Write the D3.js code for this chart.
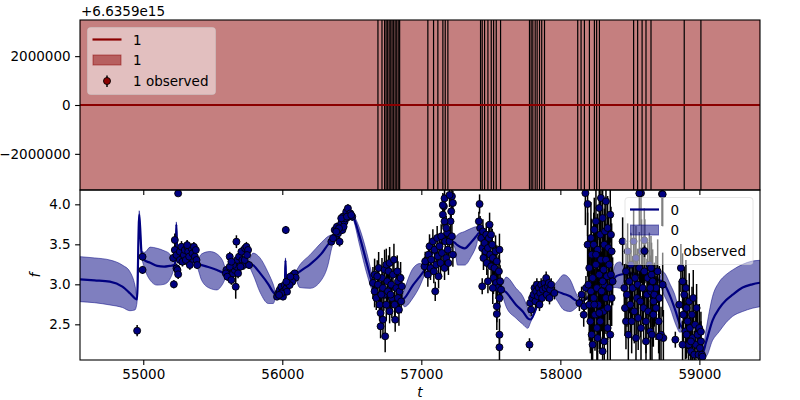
<!DOCTYPE html>
<html><head><meta charset="utf-8">
<script src="https://cdn.jsdelivr.net/npm/d3@7"></script>
<style>body{margin:0;background:#fff;} svg{display:block;} text{font-family:"DejaVu Sans",sans-serif;}</style>
</head><body><svg id="c" width="800" height="400"></svg>
<script>
// ---------- data ----------
const xTicks = [55000, 56000, 57000, 58000, 59000];
const xTickLabels = ["55000", "56000", "57000", "58000", "59000"];
const topTicks = [-2000000, 0, 2000000];
const topTickLabels = ["\u22122000000", "0", "2000000"];
const topOffsetLabel = "+6.6359e15";
const botTicks = [2.5, 3.0, 3.5, 4.0];
const botTickLabels = ["2.5", "3.0", "3.5", "4.0"];
const legendTop = ["1", "1", "1 observed"];
const legendBot = ["0", "0", "0 observed"];

// series 1 (top panel, offset units)
const topModelT = [54545, 59436];
const topModelMean = [0, 0];
const topModelLo = [-5000000, -5000000];
const topModelHi = [5000000, 5000000];
const obs1T = [56688, 56717, 56736, 56747, 56758, 56769, 56780, 56790, 56801, 56812, 56823, 56834, 56844,
  57047, 57088, 57119, 57155, 57172, 57191,
  57426, 57438, 57455, 57479, 57503, 57520, 57539, 57570,
  57778, 57790, 57802, 57819, 57833, 57850, 57866, 57886,
  58125, 58149, 58173, 58209, 58245, 58261, 58281,
  58527, 58556, 58588, 58616, 58652, 58891, 59011];

// series 0 model (bottom panel)
const modelT = [54545,54650,54760,54850,54904,54940,54955,54971,54988,55010,55050,55100,55150,55190,55222,55232,55238,55244,55300,55383,55420,55479,55530,55570,55600,55650,55700,55754,55790,55840,55900,55935,55955,56000,56018,56023,56028,56060,56090,56125,56200,56280,56330,56355,56380,56430,56473,56509,56556,56610,56652,56690,56750,56856,56880,56940,56990,57024,57100,57200,57240,57260,57311,57360,57395,57415,57450,57500,57574,57610,57682,57730,57766,57785,57850,57935,57975,58025,58070,58110,58140,58250,58360,58400,58430,58460,58480,58600,58712,58735,58790,58832,58860,58880,58960,59023,59047,59095,59143,59191,59239,59311,59380,59436];
const modelMean = [3.063,3.05,3.033,2.97,2.888,2.825,2.81,3.87,3.39,3.30,3.27,3.23,3.22,3.23,3.24,3.30,3.75,3.40,3.34,3.263,3.24,3.21,3.18,3.15,3.14,3.18,3.24,3.263,3.24,3.14,3.00,2.90,2.87,2.92,2.95,3.30,2.98,3.05,3.11,3.16,3.25,3.38,3.50,3.55,3.60,3.75,3.93,3.85,3.60,3.25,2.99,2.87,2.85,2.80,2.83,2.99,3.10,3.18,3.45,3.55,3.52,3.49,3.45,3.53,3.60,3.64,3.55,3.30,2.95,2.90,2.742,2.66,2.575,2.56,2.80,2.92,2.91,2.88,2.85,2.80,2.78,2.90,3.00,3.10,3.12,3.13,3.14,3.10,3.05,3.033,2.85,2.65,2.50,2.45,2.30,2.14,2.27,2.55,2.70,2.80,2.87,2.96,3.00,3.02];
const modelLo = [2.783,2.77,2.742,2.71,2.67,2.68,2.77,3.82,3.36,3.20,3.05,2.99,3.00,3.06,3.20,3.27,3.72,3.37,3.31,3.23,3.05,2.95,2.93,3.00,3.10,3.15,3.21,3.23,3.12,2.90,2.76,2.76,2.84,2.89,2.92,3.27,2.95,3.02,3.08,2.96,2.95,3.05,3.25,3.45,3.57,3.72,3.90,3.82,3.49,3.12,2.90,2.84,2.82,2.76,2.72,2.83,2.98,3.12,3.42,3.52,3.46,3.24,3.24,3.35,3.48,3.60,3.52,3.27,2.92,2.72,2.575,2.50,2.45,2.52,2.77,2.89,2.80,2.68,2.66,2.70,2.75,2.87,2.96,2.96,2.95,3.05,3.11,3.07,3.02,2.91,2.70,2.49,2.40,2.42,2.27,2.11,2.10,2.30,2.41,2.52,2.60,2.66,2.70,2.72];
const modelHi = [3.346,3.33,3.304,3.24,3.158,2.99,2.85,3.92,3.42,3.40,3.465,3.45,3.42,3.38,3.28,3.33,3.78,3.43,3.37,3.30,3.38,3.41,3.38,3.30,3.18,3.21,3.27,3.29,3.39,3.33,3.14,3.00,2.90,2.95,2.98,3.33,3.01,3.08,3.14,3.24,3.37,3.52,3.60,3.62,3.63,3.78,3.96,3.88,3.70,3.38,3.08,2.90,2.88,2.84,2.95,3.20,3.26,3.24,3.48,3.58,3.58,3.62,3.66,3.70,3.72,3.68,3.58,3.33,2.98,3.09,2.95,2.85,2.70,2.60,2.83,2.95,3.03,3.12,3.06,2.90,2.81,2.93,3.04,3.26,3.28,3.20,3.17,3.13,3.08,3.16,3.00,2.82,2.60,2.48,2.33,2.17,2.42,2.85,3.03,3.12,3.18,3.25,3.29,3.30];

// series 0 observations [t, f, error]
const obs0 = [
[54956,2.42,0.07],[54995,3.345,0.05],[54995,3.18,0.05],
[55251,4.137,0.03],[55227,3.554,0.08],[55215,3.33,0.05],[55220,3.0,0.05],[55227,3.429,0.06],[55239,3.366,0.06],[55239,3.20,0.06],[55246,3.179,0.06],[55251,3.125,0.06],[55263,3.408,0.06],[55263,3.304,0.06],[55275,3.47,0.07],[55282,3.283,0.06],[55292,3.366,0.06],[55299,3.429,0.06],[55306,3.304,0.06],[55316,3.47,0.08],[55323,3.408,0.06],[55330,3.346,0.06],[55335,3.241,0.06],[55347,3.45,0.06],[55354,3.387,0.06],[55364,3.47,0.06],[55371,3.346,0.06],[55383,3.304,0.05],[55388,3.241,0.05],[55378,3.429,0.06],[55316,3.49,0.06],
[55670,3.533,0.08],[55598,3.179,0.05],[55594,3.137,0.05],[55605,3.096,0.05],[55634,3.054,0.06],[55646,3.137,0.06],[55658,3.179,0.06],[55665,2.97,0.15],[55670,3.22,0.06],[55675,3.304,0.06],[55689,3.346,0.06],[55706,3.408,0.06],[55713,3.304,0.06],[55723,3.241,0.06],[55732,3.45,0.06],[55742,3.47,0.06],[55754,3.429,0.06],[55761,3.241,0.05],[55699,3.22,0.06],[55646,3.241,0.06],[55622,3.22,0.06],[55682,3.137,0.06],[55730,3.304,0.06],[55747,3.366,0.06],[55622,3.346,0.06],[55634,3.283,0.06],
[56025,3.679,0.05],[55962,2.846,0.04],[55970,2.887,0.04],[55981,2.929,0.04],[55993,2.97,0.04],[56005,2.908,0.04],[56005,2.846,0.04],[56017,2.991,0.04],[56029,2.95,0.04],[56041,3.012,0.04],[56053,3.033,0.04],[56065,3.075,0.04],[56077,3.116,0.04],[56089,3.137,0.04],[56096,3.083,0.04],[56072,3.033,0.04],[56053,2.991,0.04],[56034,2.908,0.04],[55993,2.887,0.04],[55977,2.867,0.04],[56029,3.033,0.04],[56058,3.096,0.04],
[56353,3.533,0.04],[56377,3.679,0.05],[56384,3.596,0.05],[56393,3.72,0.05],[56401,3.637,0.05],[56412,3.533,0.06],[56424,3.762,0.05],[56432,3.679,0.05],[56436,3.846,0.05],[56448,3.783,0.05],[56460,3.908,0.05],[56472,3.95,0.05],[56479,3.846,0.05],[56489,3.887,0.05],[56503,3.846,0.05],[56455,3.825,0.05],[56441,3.72,0.05],[56408,3.70,0.05],[56388,3.658,0.05],[56424,3.825,0.05],[56465,3.846,0.05],[56496,3.866,0.05],[56365,3.575,0.05],
[56664,3.121,0.2],[56652,3.017,0.2],[56664,2.912,0.2],[56676,2.829,0.15],[56688,2.996,0.2],[56693,3.204,0.2],[56700,2.746,0.2],[56707,2.642,0.2],[56707,2.475,0.15],[56717,3.079,0.25],[56724,2.954,0.2],[56731,2.871,0.2],[56736,3.183,0.25],[56740,2.35,0.2],[56748,3.246,0.2],[56748,2.746,0.2],[56755,3.037,0.25],[56760,2.912,0.2],[56764,3.162,0.2],[56772,2.662,0.15],[56772,3.267,0.2],[56784,2.996,0.2],[56788,2.829,0.25],[56796,3.121,0.2],[56803,3.308,0.2],[56808,2.746,0.2],[56812,2.558,0.15],[56820,2.954,0.2],[56827,3.162,0.2],[56832,2.829,0.2],[56832,3.037,0.25],[56839,2.683,0.2],[56844,2.912,0.2],[56851,3.079,0.2],[56855,2.787,0.15],[56860,2.975,0.15],[56724,2.558,0.2],[56683,3.10,0.2],[56712,2.871,0.2],[56779,2.871,0.2],
[57023,3.225,0.12],[57028,3.287,0.12],[57047,3.121,0.15],[57052,3.371,0.15],[57059,3.475,0.15],[57066,3.204,0.15],[57071,3.308,0.15],[57083,3.537,0.15],[57090,3.162,0.15],[57095,3.433,0.15],[57100,2.912,0.12],[57107,3.246,0.15],[57114,3.579,0.15],[57119,3.35,0.15],[57124,3.10,0.15],[57131,3.475,0.15],[57138,3.267,0.15],[57143,3.60,0.15],[57148,3.392,0.15],[57155,3.871,0.15],[57162,3.975,0.15],[57167,3.204,0.15],[57172,3.537,0.15],[57179,3.329,0.15],[57186,3.642,0.15],[57191,3.433,0.15],[57195,3.267,0.15],[57203,3.537,0.15],[57210,3.787,0.15],[57215,3.912,0.15],[57220,4.10,0.15],[57220,3.60,0.15],[57227,3.371,0.15],[57227,4.017,0.15],[57167,3.787,0.15],[57179,3.704,0.15],[57155,3.99,0.15],[57167,4.075,0.15],[57203,4.117,0.15],
[57419,4.004,0.12],[57414,3.787,0.12],[57423,3.704,0.15],[57431,3.579,0.15],[57438,3.454,0.15],[57443,3.662,0.15],[57447,3.329,0.15],[57455,3.517,0.15],[57462,3.412,0.15],[57467,3.621,0.15],[57471,3.267,0.15],[57479,3.454,0.15],[57486,3.579,0.15],[57491,3.746,0.15],[57495,3.371,0.15],[57502,3.225,0.15],[57502,3.621,0.15],[57510,3.496,0.2],[57514,3.329,0.2],[57519,3.079,0.2],[57526,3.204,0.2],[57534,3.412,0.2],[57538,3.017,0.2],[57543,3.287,0.2],[57550,2.954,0.2],[57558,3.162,0.2],[57562,3.433,0.2],[57562,2.829,0.2],[57567,3.037,0.2],[57574,2.933,0.15],[57543,2.725,0.2],[57543,2.629,0.2],[57562,2.37,0.2],[57562,2.213,0.2],[57438,2.975,0.1],[57479,3.037,0.15],[57514,2.954,0.2],
[57778,2.246,0.08],[57783,2.767,0.08],[57790,2.683,0.08],[57797,2.829,0.08],[57807,2.871,0.08],[57814,2.954,0.08],[57821,2.787,0.08],[57826,2.912,0.08],[57831,2.996,0.08],[57838,2.85,0.08],[57845,2.954,0.08],[57850,2.746,0.08],[57855,2.891,0.08],[57862,2.996,0.08],[57869,2.829,0.08],[57874,2.933,0.08],[57886,3.017,0.08],[57893,2.954,0.08],[57898,3.079,0.08],[57902,2.871,0.08],[57910,2.975,0.08],[57917,3.017,0.08],[57922,2.829,0.08],[57926,2.933,0.08],[57934,2.996,0.08],[57957,2.891,0.08],
[58137,2.766,0.1],[58153,2.871,0.1],[58172,2.725,0.15],[58184,2.954,0.15],[58168,2.62,0.15],
[58196,4.004,0.4],[58196,3.496,0.4],[58201,2.996,0.45],[58208,2.746,0.45],[58208,3.204,0.4],[58216,2.537,0.4],[58220,2.912,0.5],[58225,3.371,0.45],[58225,2.371,0.4],[58232,3.079,0.5],[58240,2.829,0.45],[58240,3.496,0.4],[58244,3.683,0.4],[58249,2.621,0.45],[58256,3.246,0.5],[58256,3.787,0.4],[58263,2.954,0.5],[58263,2.454,0.4],[58268,3.433,0.45],[58273,2.746,0.45],[58280,3.121,0.5],[58280,3.954,0.4],[58287,3.621,0.45],[58287,2.537,0.4],[58292,3.308,0.5],[58297,2.912,0.5],[58304,2.163,0.35],[58304,3.829,0.4],[58311,3.183,0.45],[58311,2.662,0.4],[58316,3.496,0.45],[58316,2.996,0.45],[58321,3.662,0.4],[58328,3.308,0.45],[58328,2.829,0.45],[58335,3.10,0.45],[58340,3.704,0.4],[58340,2.454,0.4],[58345,3.454,0.4],[58352,2.954,0.4],[58352,3.246,0.4],[58359,2.371,0.35],[58359,3.871,0.35],[58364,3.121,0.35],[58369,3.412,0.35],[58369,2.829,0.35],[58376,3.037,0.3],[58292,4.079,0.4],[58328,4.037,0.4],[58268,2.329,0.4],[58232,2.246,0.4],[58316,2.287,0.4],[58244,2.746,0.45],[58340,2.704,0.4],[58220,3.579,0.45],[58280,2.642,0.45],[58304,3.037,0.5],[58256,3.371,0.45],[58364,3.621,0.35],[58180,4.14,0.4],
[58448,3.537,0.3],[58460,2.954,0.3],[58465,2.704,0.35],[58472,3.162,0.35],[58472,2.537,0.35],[58479,2.871,0.4],[58484,3.412,0.35],[58489,2.371,0.35],[58496,3.037,0.4],[58503,2.746,0.4],[58508,3.246,0.4],[58513,2.537,0.4],[58520,2.954,0.4],[58527,3.537,0.4],[58532,2.662,0.4],[58537,3.079,0.45],[58544,2.329,0.35],[58544,3.329,0.4],[58551,2.829,0.45],[58556,2.996,0.45],[58560,2.579,0.4],[58568,3.204,0.45],[58575,2.787,0.45],[58580,2.454,0.4],[58584,3.412,0.4],[58592,2.954,0.45],[58599,2.704,0.45],[58604,3.162,0.45],[58608,3.412,0.4],[58616,2.537,0.4],[58616,2.287,0.35],[58623,2.871,0.45],[58628,3.079,0.45],[58632,2.662,0.4],[58640,3.246,0.4],[58647,2.412,0.4],[58652,2.912,0.45],[58656,3.121,0.4],[58664,2.621,0.4],[58671,2.787,0.4],[58580,4.14,0.4],[58731,4.129,0.4],[58652,3.204,0.4],[58664,3.037,0.4],[58676,2.871,0.4],[58688,2.954,0.4],[58688,2.704,0.4],[58700,3.162,0.4],[58707,2.537,0.4],[58712,2.829,0.4],[58724,2.371,0.35],[58736,2.996,0.4],[58741,2.329,0.35],[58659,2.371,0.35],[58669,2.621,0.4],[58647,2.954,0.4],[58568,4.137,0.4],[58736,4.125,0.4],[58712,2.346,0.3],[58604,3.55,0.4],
[58867,3.204,0.3],[58855,2.746,0.3],[58827,2.308,0.1],[58879,3.037,0.35],[58884,2.621,0.35],[58891,2.871,0.35],[58899,2.412,0.35],[58903,2.954,0.35],[58908,2.704,0.35],[58915,2.537,0.35],[58923,2.246,0.3],[58927,2.787,0.35],[58932,2.454,0.35],[58939,2.163,0.3],[58947,2.621,0.35],[58951,2.329,0.3],[58956,2.829,0.35],[58963,2.121,0.3],[58970,2.496,0.3],[58975,2.246,0.3],[58980,2.704,0.3],[58987,2.371,0.3],[58994,2.121,0.3],[58999,2.454,0.3],[59004,2.204,0.25],[59011,2.287,0.25],[59018,2.121,0.2],[58908,2.371,0.3],[58879,2.246,0.3],[58939,2.287,0.3],[59011,2.408,0.25],[59023,2.096,0.2]
];

// ---------- drawing ----------
const FONT = 13.5;
const svg = d3.select("#c");
const L = 80, R = 760, T1 = 20, B1 = 190, T2 = 190, B2 = 360;
const x = d3.scaleLinear().domain([54545, 59436]).range([L, R]);
const yT = d3.scaleLinear().domain([-3480000, 3480000]).range([B1, T1]);
const yB = d3.scaleLinear().domain([2.054, 4.179]).range([B2, T2]);

const defs = svg.append("defs");
defs.append("clipPath").attr("id", "clipTop").append("rect").attr("x", L).attr("y", T1).attr("width", R - L).attr("height", B1 - T1);
defs.append("clipPath").attr("id", "clipBot").append("rect").attr("x", L).attr("y", T2).attr("width", R - L).attr("height", B2 - T2);

// top panel
const topData = topModelT.map((t, i) => ({t, m: topModelMean[i], lo: topModelLo[i], hi: topModelHi[i]}));
const gT = svg.append("g").attr("clip-path", "url(#clipTop)");
gT.append("path").datum(topData)
  .attr("d", d3.area().x(d => x(d.t)).y0(d => yT(d.lo)).y1(d => yT(d.hi)))
  .attr("fill", "#8b0000").attr("fill-opacity", 0.5).attr("stroke", "#8b0000").attr("stroke-opacity", 0.5);
gT.selectAll("line.eb").data(obs1T).join("line")
  .attr("x1", d => x(d)).attr("x2", d => x(d)).attr("y1", T1 - 5).attr("y2", B1 + 5)
  .attr("stroke", "#000").attr("stroke-width", 1.2);
gT.append("path").datum(topData)
  .attr("d", d3.line().x(d => x(d.t)).y(d => yT(d.m)))
  .attr("fill", "none").attr("stroke", "#8b0000").attr("stroke-width", 2.2);

// bottom panel
const modelData = modelT.map((t, i) => ({t, m: modelMean[i], lo: modelLo[i], hi: modelHi[i]}));
const gB = svg.append("g").attr("clip-path", "url(#clipBot)");
gB.append("path").datum(modelData)
  .attr("d", d3.area().curve(d3.curveMonotoneX).x(d => x(d.t)).y0(d => yB(d.lo)).y1(d => yB(d.hi)))
  .attr("fill", "#000080").attr("fill-opacity", 0.5).attr("stroke", "#000080").attr("stroke-opacity", 0.5).attr("stroke-width", 1);
gB.append("path").datum(modelData)
  .attr("d", d3.line().curve(d3.curveMonotoneX).x(d => x(d.t)).y(d => yB(d.m)))
  .attr("fill", "none").attr("stroke", "#000080").attr("stroke-width", 2.2);
gB.selectAll("line.eb").data(obs0).join("line")
  .attr("x1", d => x(d[0])).attr("x2", d => x(d[0]))
  .attr("y1", d => yB(d[1] - d[2])).attr("y2", d => yB(d[1] + d[2]))
  .attr("stroke", "#000").attr("stroke-width", 1.5);
gB.selectAll("circle").data(obs0).join("circle")
  .attr("cx", d => x(d[0])).attr("cy", d => yB(d[1])).attr("r", 3.5)
  .attr("fill", "#000080").attr("stroke", "#000").attr("stroke-width", 0.9);

// axes
function styleAxis(g) {
  g.select(".domain").remove();
  g.selectAll(".tick line").attr("stroke", "#000").attr("stroke-width", 1.1);
  g.selectAll(".tick text").attr("font-family", "DejaVu Sans").attr("font-size", FONT).attr("fill", "#000");
}
svg.append("g").attr("transform", `translate(${L},0)`)
  .call(d3.axisLeft(yT).tickValues(topTicks).tickFormat((d, i) => topTickLabels[i]).tickSize(4.9).tickPadding(4.5))
  .call(styleAxis);
svg.append("g").attr("transform", `translate(${L},0)`)
  .call(d3.axisLeft(yB).tickValues(botTicks).tickFormat((d, i) => botTickLabels[i]).tickSize(4.9).tickPadding(4.5))
  .call(styleAxis);
svg.append("g").attr("transform", `translate(0,${B1})`)
  .call(d3.axisBottom(x).tickValues(xTicks).tickFormat("").tickSize(4.9))
  .call(styleAxis);
svg.append("g").attr("transform", `translate(0,${B2})`)
  .call(d3.axisBottom(x).tickValues(xTicks).tickFormat((d, i) => xTickLabels[i]).tickSize(4.9).tickPadding(4.5))
  .call(styleAxis);

// spines
[[T1, B1], [T2, B2]].forEach(([a, b]) => {
  svg.append("rect").attr("x", L).attr("y", a).attr("width", R - L).attr("height", b - a)
    .attr("fill", "none").attr("stroke", "#000").attr("stroke-width", 1.1);
});

// labels
svg.append("text").attr("x", 81).attr("y", 16).attr("font-size", FONT).text(topOffsetLabel);
svg.append("text").attr("transform", "translate(40,275) rotate(-90)").attr("text-anchor", "middle")
  .attr("font-size", FONT).attr("font-style", "italic").text("f");
svg.append("text").attr("x", 420).attr("y", 397).attr("text-anchor", "middle")
  .attr("font-size", FONT).attr("font-style", "italic").text("t");

// legends
function legend(x0, y0, color, labels) {
  const g = svg.append("g");
  g.append("rect").attr("x", x0).attr("y", y0).attr("width", 128).attr("height", 67).attr("rx", 3)
    .attr("fill", "#fff").attr("fill-opacity", 0.5).attr("stroke", "#ccc").attr("stroke-opacity", 0.5);
  g.append("line").attr("x1", x0 + 5).attr("x2", x0 + 34).attr("y1", y0 + 12).attr("y2", y0 + 12)
    .attr("stroke", color).attr("stroke-width", 2.2);
  g.append("rect").attr("x", x0 + 5.5).attr("y", y0 + 27.5).attr("width", 28).attr("height", 10)
    .attr("fill", color).attr("fill-opacity", 0.5).attr("stroke", color).attr("stroke-opacity", 0.5);
  g.append("line").attr("x1", x0 + 19.5).attr("x2", x0 + 19.5).attr("y1", y0 + 48).attr("y2", y0 + 59.5)
    .attr("stroke", "#000").attr("stroke-width", 1.5);
  g.append("circle").attr("cx", x0 + 19.5).attr("cy", y0 + 53.5).attr("r", 3.5)
    .attr("fill", color).attr("stroke", "#000").attr("stroke-width", 0.9);
  labels.forEach((s, i) => {
    g.append("text").attr("x", x0 + 45.5).attr("y", y0 + 17 + i * 20.7).attr("font-size", FONT).text(s);
  });
}
legend(87.5, 27.5, "#8b0000", legendTop);
legend(625, 197.5, "#000080", legendBot);
</script>
</body></html>
